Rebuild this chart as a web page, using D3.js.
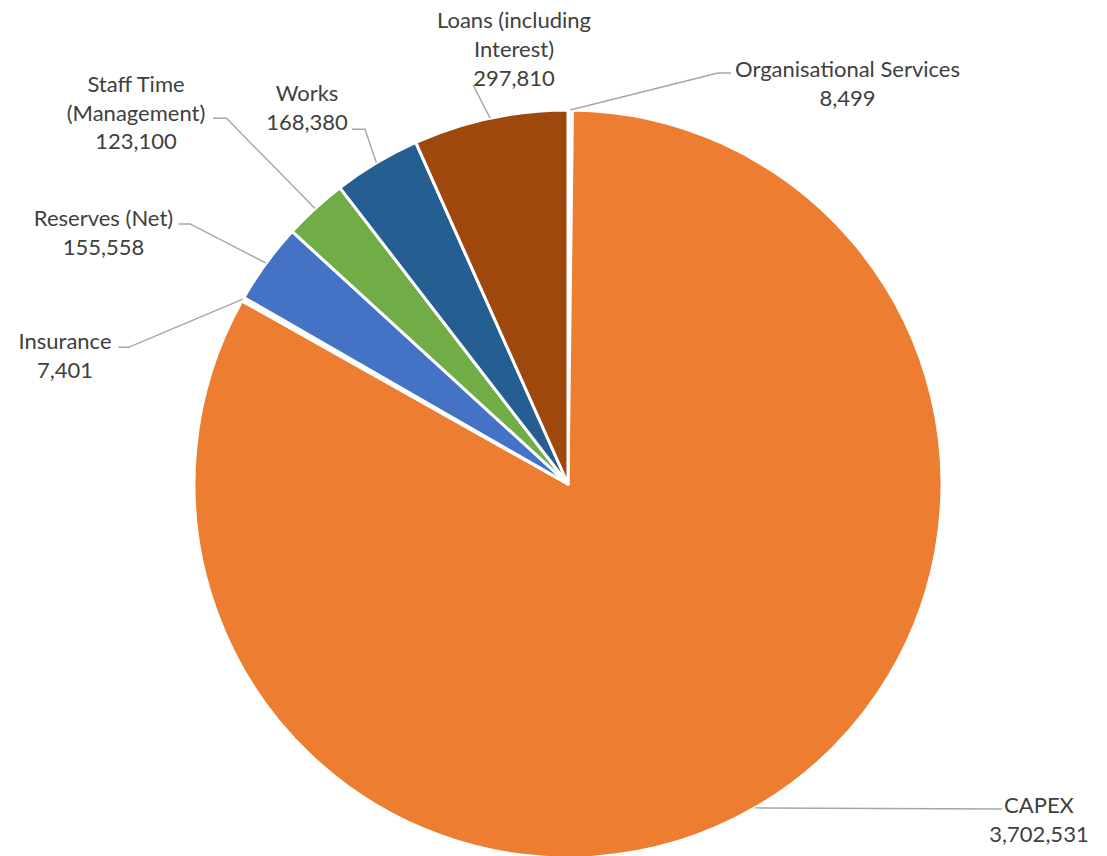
<!DOCTYPE html>
<html>
<head>
<meta charset="utf-8">
<script src="https://cdn.jsdelivr.net/npm/d3@7"></script>
<style>
  html, body { margin: 0; padding: 0; background: #ffffff; }
  svg { display: block; }
  .label { font-family: Lato, "Open Sans", sans-serif; fill: #404040; }
</style>
</head>
<body>
<svg id="chart" width="1107" height="856"></svg>
<script>
// Budget breakdown, in the order the slices run clockwise from 12 o'clock
const categories = [
  "Organisational Services",
  "CAPEX",
  "Insurance",
  "Reserves (Net)",
  "Staff Time (Management)",
  "Works",
  "Loans (including Interest)"
];
const values = [8499, 3702531, 7401, 155558, 123100, 168380, 297810];

// Label text, split over lines as it is set beside each slice
const labelLines = [
  ["Organisational Services"],
  ["CAPEX"],
  ["Insurance"],
  ["Reserves (Net)"],
  ["Staff Time", "(Management)"],
  ["Works"],
  ["Loans (including", "Interest)"]
];

const colors = ["#f3f5f9", "#ED7D31", "#f3f5f9", "#4472C4", "#70AD47", "#255E91", "#9E480E"];

// Label placement: text centre x, first baseline y, leader elbow and attach point
const labelLayout = [
  { x: 847.5, y: 76.7,  elbow: [718, 73],     attach: [731, 73] },
  { x: 1039,  y: 813.3, elbow: [1002, 809],   attach: [1002, 809] },
  { x: 65,    y: 349.3, elbow: [128.5, 347.3], attach: [118.5, 347.3] },
  { x: 103.5, y: 225.7, elbow: [190, 224],    attach: [178.5, 224] },
  { x: 136,   y: 91.7,  elbow: [226.5, 118.3], attach: [213, 118.3] },
  { x: 307,   y: 100.7, elbow: [365, 129.3],  attach: [352, 129.3] },
  { x: 514,   y: 28.3,  elbow: [473, 85],     attach: [473, 85] }
];

const cx = 568, cy = 484, radius = 374;
const fontSize = 22, lineGap = 28.8;

const svg = d3.select("#chart");
const g = svg.append("g").attr("transform", `translate(${cx},${cy})`);

const data = categories.map((c, i) => ({ name: c, value: values[i], i }));

const pie = d3.pie().sort(null).value(d => d.value);
const arcs = pie(data);
const arc = d3.arc().innerRadius(0).outerRadius(radius);

g.selectAll("path.slice")
  .data(arcs)
  .join("path")
  .attr("class", "slice")
  .attr("d", arc)
  .attr("fill", d => colors[d.data.i])
  .attr("stroke", "#ffffff")
  .attr("stroke-width", 3)
  .attr("stroke-linejoin", "round");

const fmt = d3.format(",");

// Leader lines from the slice edge to each label
arcs.forEach(a => {
  const L = labelLayout[a.data.i];
  const mid = (a.startAngle + a.endAngle) / 2;
  const px = cx + radius * Math.sin(mid);
  const py = cy - radius * Math.cos(mid);
  const pts = [[px, py], L.elbow, L.attach];
  svg.append("path")
    .attr("d", d3.line()(pts))
    .attr("fill", "none")
    .attr("stroke", "#a6a6a6")
    .attr("stroke-width", 1.4);
});

// Labels: category name lines followed by the value
arcs.forEach(a => {
  const i = a.data.i;
  const L = labelLayout[i];
  const lines = labelLines[i].concat([fmt(a.data.value)]);
  const t = svg.append("text")
    .attr("class", "label")
    .attr("text-anchor", "middle")
    .attr("font-size", fontSize);
  lines.forEach((s, k) => {
    t.append("tspan")
      .attr("x", L.x)
      .attr("y", L.y + k * lineGap)
      .text(s);
  });
});
</script>
</body>
</html>
